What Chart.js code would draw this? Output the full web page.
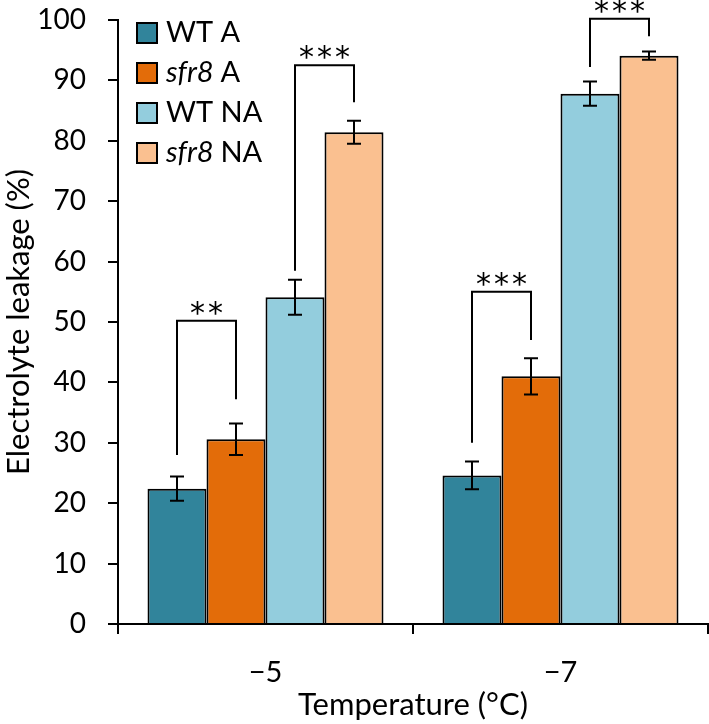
<!DOCTYPE html>
<html>
<head>
<meta charset="utf-8">
<script src="https://cdn.jsdelivr.net/npm/chart.js@4"></script>
<style>
  html, body { margin: 0; padding: 0; background: #fff; }
  #wrap { width: 709px; height: 724px; }
</style>
</head>
<body>
<div id="wrap"><canvas id="grafico" width="709" height="724"></canvas></div>
<script>
// Datos
const categorias = ['\u22125', '\u22127'];
const series = ['WT A', 'sfr8 A', 'WT NA', 'sfr8 NA'];
const wtA = [22.4, 24.6];
const sfr8A = [30.6, 41.0];
const wtNA = [54.1, 87.8];
const sfr8NA = [81.4, 94.1];
const errWtA = [2.0, 2.3];
const errSfr8A = [2.6, 3.0];
const errWtNA = [2.9, 2.0];
const errSfr8NA = [1.9, 0.7];
const colores = ['#31849B', '#E36C09', '#93CDDD', '#FAC090'];
const ticksY = [0, 10, 20, 30, 40, 50, 60, 70, 80, 90, 100];
// Corchetes de significancia: grupo, barra izq, barra der, altura, fin pata izq, fin pata der, texto
const corchetes = [
    { grupo: 0, a: 0, b: 1, top: 50.2, finA: 28.0, finB: 37.2, texto: '**' },
    { grupo: 0, a: 2, b: 3, top: 92.5, finA: 58.5, finB: 86.4, texto: '***' },
    { grupo: 1, a: 0, b: 1, top: 55.0, finA: 30.0, finB: 47.0, texto: '***' },
    { grupo: 1, a: 2, b: 3, top: 100.2, finA: 92.2, finB: 97.3, texto: '***' }
];

const valores = [wtA, sfr8A, wtNA, sfr8NA];
const errores = [errWtA, errSfr8A, errWtNA, errSfr8NA];
const FUENTE = 'Lato, "Open Sans", sans-serif';

// Barras de error y corchetes
const pluginErrores = {
    id: 'errores',
    afterDatasetsDraw(chart) {
        const ctx = chart.ctx;
        const y = chart.scales.y;
        ctx.save();
        ctx.strokeStyle = '#000';
        ctx.lineWidth = 2;
        valores.forEach((serie, d) => {
            const meta = chart.getDatasetMeta(d);
            serie.forEach((v, i) => {
                const x = meta.data[i].x;
                const y1 = y.getPixelForValue(v + errores[d][i]);
                const y2 = y.getPixelForValue(v - errores[d][i]);
                ctx.beginPath();
                ctx.moveTo(x, y1); ctx.lineTo(x, y2);
                ctx.moveTo(x - 7, y1); ctx.lineTo(x + 7, y1);
                ctx.moveTo(x - 7, y2); ctx.lineTo(x + 7, y2);
                ctx.stroke();
            });
        });
        corchetes.forEach(c => {
            const xa = chart.getDatasetMeta(c.a).data[c.grupo].x;
            const xb = chart.getDatasetMeta(c.b).data[c.grupo].x;
            const yt = y.getPixelForValue(c.top);
            ctx.beginPath();
            ctx.moveTo(xa, y.getPixelForValue(c.finA));
            ctx.lineTo(xa, yt);
            ctx.lineTo(xb, yt);
            ctx.lineTo(xb, y.getPixelForValue(c.finB));
            ctx.stroke();
            ctx.fillStyle = '#000';
            ctx.font = '30px "DejaVu Sans", sans-serif';
            ctx.textAlign = 'center';
            ctx.textBaseline = 'alphabetic';
            const m = ctx.measureText('*');
            const yBase = yt - 13 + (m.actualBoundingBoxAscent - m.actualBoundingBoxDescent) / 2;
            const n = c.texto.length;
            const cx = (xa + xb) / 2;
            for (let k = 0; k < n; k++) {
                ctx.fillText('*', cx + (k - (n - 1) / 2) * 18, yBase);
            }
        });
        ctx.restore();
    }
};

// Leyenda propia (nombre del mutante en cursiva)
const pluginLeyenda = {
    id: 'leyenda',
    afterDraw(chart) {
        const ctx = chart.ctx;
        ctx.save();
        ctx.textBaseline = 'middle';
        ctx.textAlign = 'left';
        series.forEach((s, i) => {
            const yc = 33 + i * 40;
            ctx.fillStyle = colores[i];
            ctx.fillRect(137, yc - 10, 20, 20);
            ctx.strokeStyle = '#000';
            ctx.lineWidth = 2;
            ctx.strokeRect(137, yc - 10, 20, 20);
            ctx.fillStyle = '#000';
            let x = 166;
            const partes = s.split(' ');
            if (partes[0] === 'sfr8') {
                ctx.font = 'italic 29px ' + FUENTE;
                ctx.fillText('sfr8', x, yc);
                x += ctx.measureText('sfr8 ').width;
            } else {
                ctx.font = '29px ' + FUENTE;
                ctx.fillText(partes[0], x, yc);
                x += ctx.measureText(partes[0] + ' ').width;
            }
            ctx.font = '29px ' + FUENTE;
            ctx.fillText(partes.slice(1).join(' '), x, yc);
        });
        ctx.restore();
    }
};

const ctx = document.getElementById('grafico').getContext('2d');
new Chart(ctx, {
    type: 'bar',
    data: {
        labels: categorias,
        datasets: series.map((s, i) => ({
            label: s,
            data: valores[i],
            backgroundColor: colores[i],
            borderColor: '#000',
            borderWidth: 2,
            categoryPercentage: 0.8,
            barPercentage: 1.0
        }))
    },
    options: {
        responsive: false,
        animation: false,
        layout: { padding: { top: 20, right: 1, left: 0, bottom: 0 } },
        plugins: {
            legend: { display: false },
            tooltip: { enabled: false }
        },
        scales: {
            x: {
                grid: {
                    display: true,
                    drawOnChartArea: false,
                    drawTicks: true,
                    tickLength: 10,
                    color: '#000',
                    lineWidth: 2
                },
                border: { display: true, color: '#000', width: 2 },
                ticks: {
                    color: '#000',
                    font: { family: FUENTE, size: 29 },
                    padding: 21
                },
                title: {
                    display: true,
                    text: 'Temperature (\u00B0C)',
                    color: '#000',
                    font: { family: FUENTE, size: 31 },
                    padding: { top: 0, bottom: 0 }
                },
                afterFit(s) { s.height = 100; }
            },
            y: {
                min: 0,
                max: 100,
                afterBuildTicks(s) { s.ticks = ticksY.map(v => ({ value: v })); },
                grid: {
                    display: true,
                    drawOnChartArea: false,
                    drawTicks: true,
                    tickLength: 10,
                    color: '#000',
                    lineWidth: 2
                },
                border: { display: true, color: '#000', width: 2 },
                ticks: {
                    color: '#000',
                    font: { family: FUENTE, size: 28 },
                    padding: 22
                },
                title: {
                    display: true,
                    text: 'Electrolyte leakage (%)',
                    color: '#000',
                    font: { family: FUENTE, size: 31 },
                    padding: { top: 0, bottom: 0 }
                },
                afterFit(s) {
                    s.width = 118;
                    s.paddingTop = 0;
                    s.paddingBottom = 0;
                }
            }
        }
    },
    plugins: [pluginErrores, pluginLeyenda]
});
</script>
</body>
</html>
